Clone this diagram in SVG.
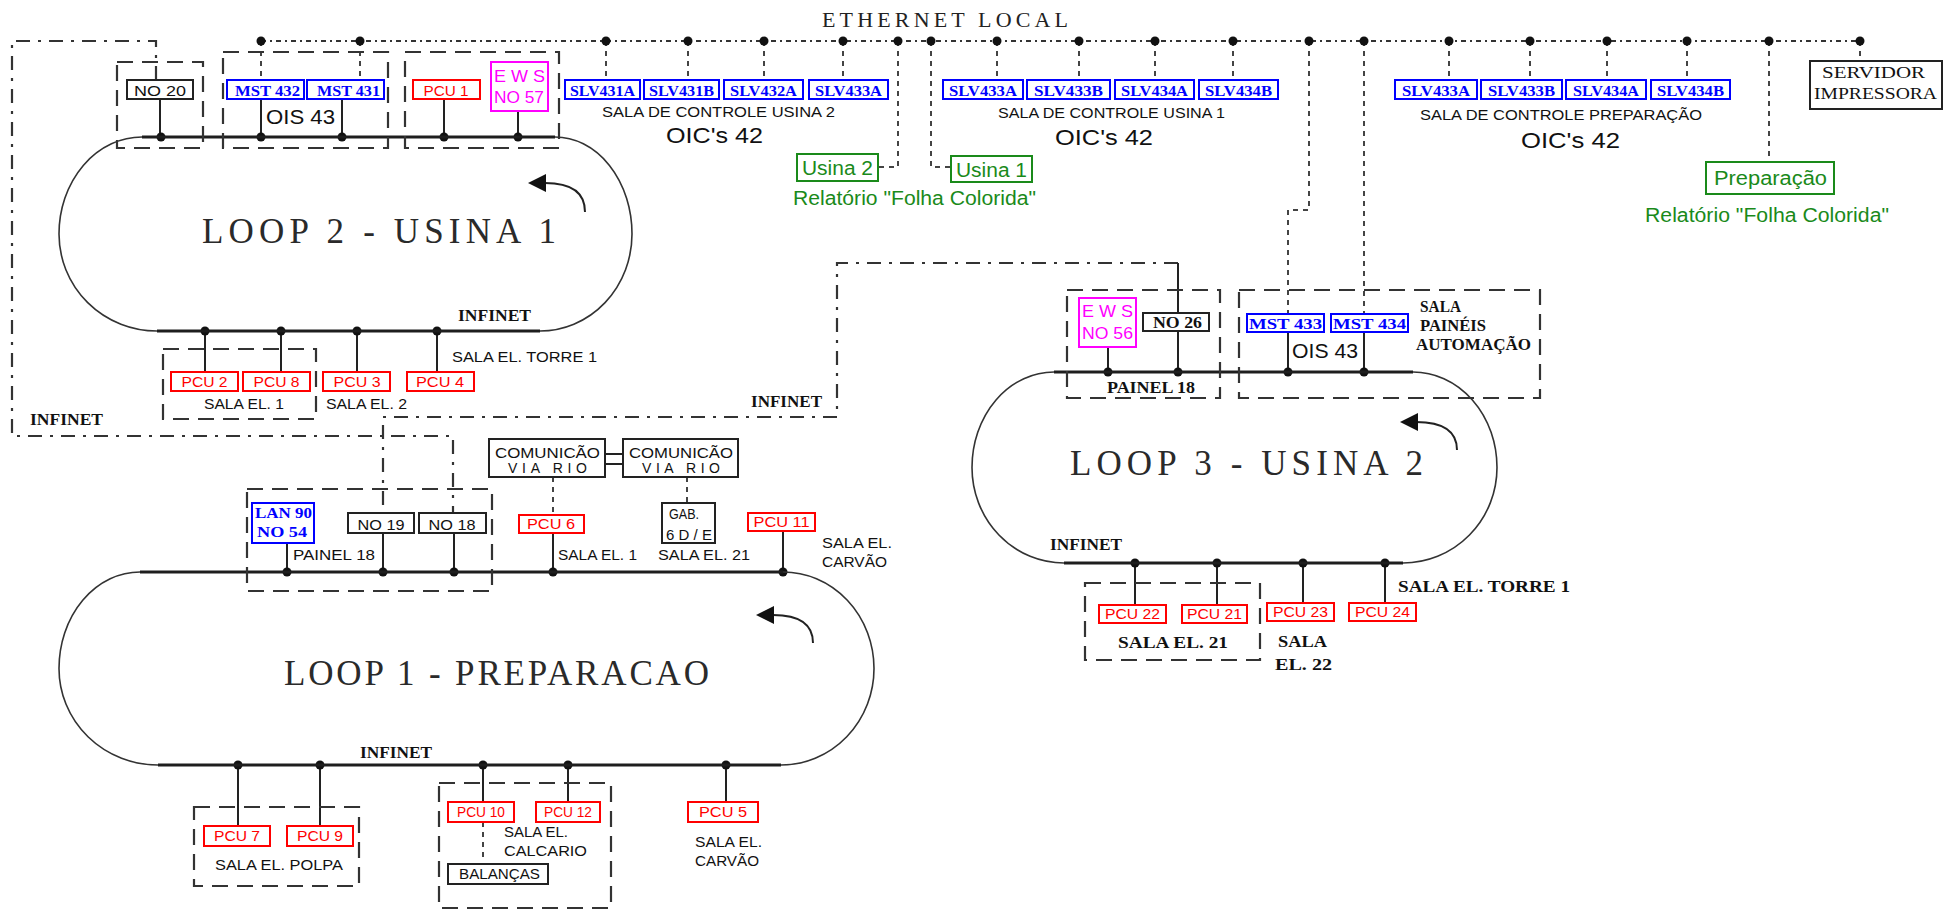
<svg xmlns="http://www.w3.org/2000/svg" width="1950" height="910" viewBox="0 0 1950 910">
<style>
.bus{stroke:#1e1e1e;stroke-width:3;fill:none}
.arc{stroke:#333;stroke-width:1.6;fill:none}
.drop{stroke:#222;stroke-width:2;fill:none}
.eth{stroke:#333;stroke-width:2.2;stroke-dasharray:5 4 2 4;fill:none}
.tap{stroke:#444;stroke-width:2;stroke-dasharray:5 5;fill:none}
.link{stroke:#333;stroke-width:2.2;stroke-dasharray:14 8 3 8;fill:none}
.grp{stroke:#333;stroke-width:2.2;stroke-dasharray:16 9;fill:none}
.dot{fill:#111}
.bx{fill:#fff;stroke-width:2}
.k{stroke:#222}.r{stroke:#f00}.b{stroke:#00f}.m{stroke:#f0f}.g{stroke:#1a8a1a}
text{font-family:"Liberation Sans",Arial,sans-serif;fill:#111;font-size:14px}
.s15{font-size:15px}
.s20{font-size:20px}
.ser{font-family:"Liberation Serif","Times New Roman",serif;font-size:16px;font-weight:bold}
.pl{font-family:"Liberation Serif","Times New Roman",serif;font-size:16px}
.big{font-family:"Liberation Serif","Times New Roman",serif;font-size:35px;fill:#2a2a2a}
.eh{font-family:"Liberation Serif","Times New Roman",serif;font-size:22px;fill:#222}
.pcu{fill:#f00;font-size:14px;text-anchor:middle}
.mst{fill:#00f;font-family:"Liberation Serif","Times New Roman",serif;font-weight:bold;font-size:15px}
.mag{fill:#f0f;font-size:17px}
.grn{fill:#1a8a1a;font-size:20px}
.oic{font-size:22px}
.mid{text-anchor:middle}
.arw{stroke:#222;stroke-width:2;fill:none}
</style>

<!-- connectors -->
<g id="connectors">
  <!-- ethernet backbone -->
  <path class="eth" d="M261,41 H1860"/>
  <g id="eth-taps">
    <path class="tap" d="M261,41V80M360,41V80M606,41V80M688,41V80M764,41V80M843,41V80M997,41V80M1079,41V80M1155,41V80M1233,41V80M1449,41V80M1530,41V80M1607,41V80M1687,41V80M1860,41V61M1769,41V162"/>
    <path class="tap" d="M898,41V167H878M931,41V167H951M1309,41V210H1288V314M1364,41V314"/>
  </g>
  <g id="eth-dots" class="dot">
    <circle cx="261" cy="41" r="4.5"/><circle cx="360" cy="41" r="4.5"/><circle cx="606" cy="41" r="4.5"/><circle cx="688" cy="41" r="4.5"/>
    <circle cx="764" cy="41" r="4.5"/><circle cx="843" cy="41" r="4.5"/><circle cx="898" cy="41" r="4.5"/><circle cx="931" cy="41" r="4.5"/>
    <circle cx="997" cy="41" r="4.5"/><circle cx="1079" cy="41" r="4.5"/><circle cx="1155" cy="41" r="4.5"/><circle cx="1233" cy="41" r="4.5"/>
    <circle cx="1309" cy="41" r="4.5"/><circle cx="1364" cy="41" r="4.5"/><circle cx="1449" cy="41" r="4.5"/><circle cx="1530" cy="41" r="4.5"/>
    <circle cx="1607" cy="41" r="4.5"/><circle cx="1687" cy="41" r="4.5"/><circle cx="1769" cy="41" r="4.5"/><circle cx="1860" cy="41" r="4.5"/>
  </g>
  <!-- infinet links between loops -->
  <path class="link" d="M156,80 V41 H12 V436 H453 V513"/>
  <path class="link" d="M1178,263 H837 V417 H383 V513"/>
  <!-- drops to loop 2 -->
  <path class="drop" d="M160,99V137M261,99V137M342,99V137M444,99V137M518,111V137"/>
  <path class="drop" d="M205,331V372M281,331V372M357,331V372M437,331V372"/>
  <!-- drops to loop 1 -->
  <path class="drop" d="M287,543V572M383,533V572M454,533V572M553,533V572M783,531V572"/>
  <path class="tap" d="M553,477V515M687,477V503M483,822V857"/>
  <path class="drop" d="M605,454H623M605,464H623"/>
  <path class="drop" d="M238,765V826M320,765V826M483,765V802M568,765V802M726,765V802"/>
  <!-- drops to loop 3 -->
  <path class="drop" d="M1108,347V372M1178,263V372M1288,332V372M1364,332V372"/>
  <path class="drop" d="M1135,563V605M1217,563V605M1303,563V603M1385,563V603"/>
  <g id="loop-dots" class="dot">
    <circle cx="161" cy="137" r="4.5"/><circle cx="261" cy="137" r="4.5"/><circle cx="342" cy="137" r="4.5"/><circle cx="444" cy="137" r="4.5"/><circle cx="518" cy="137" r="4.5"/>
    <circle cx="205" cy="331" r="4.5"/><circle cx="281" cy="331" r="4.5"/><circle cx="357" cy="331" r="4.5"/><circle cx="437" cy="331" r="4.5"/>
    <circle cx="287" cy="572" r="4.5"/><circle cx="383" cy="572" r="4.5"/><circle cx="454" cy="572" r="4.5"/><circle cx="553" cy="572" r="4.5"/><circle cx="783" cy="572" r="4.5"/>
    <circle cx="238" cy="765" r="4.5"/><circle cx="320" cy="765" r="4.5"/><circle cx="483" cy="765" r="4.5"/><circle cx="568" cy="765" r="4.5"/><circle cx="726" cy="765" r="4.5"/>
    <circle cx="1108" cy="372" r="4.5"/><circle cx="1178" cy="372" r="4.5"/><circle cx="1288" cy="372" r="4.5"/><circle cx="1364" cy="372" r="4.5"/>
    <circle cx="1135" cy="563" r="4.5"/><circle cx="1217" cy="563" r="4.5"/><circle cx="1303" cy="563" r="4.5"/><circle cx="1385" cy="563" r="4.5"/>
  </g>
</g>

<!-- ring buses -->
<g id="loop2">
  <path class="bus" d="M142,137H555M157,331H540"/>
  <path class="arc" d="M555,137A77,97 0 0 1 632,234A92,97 0 0 1 540,331M157,331A98,97 0 0 1 59,234A83,97 0 0 1 142,137"/>
  <text class="big" x="202" y="243" textLength="354" lengthAdjust="spacing">LOOP 2 - USINA 1</text>
  <path class="arw" d="M545,183Q585,183 585,212"/><polygon class="dot" points="528,183 546,174 546,192"/>
  <text class="ser" x="458" y="321" textLength="73" lengthAdjust="spacingAndGlyphs">INFINET</text>
</g>
<g id="loop1">
  <path class="bus" d="M140,572H783M158,765H781"/>
  <path class="arc" d="M783,572A91,96.5 0 0 1 874,668.5A93,96.5 0 0 1 781,765M158,765A99,96.5 0 0 1 59,668.5A81,96.5 0 0 1 140,572"/>
  <text class="big" x="284" y="685" textLength="425" lengthAdjust="spacing">LOOP 1 - PREPARACAO</text>
  <path class="arw" d="M773,615Q813,615 813,643"/><polygon class="dot" points="756,615 774,606 774,624"/>
  <text class="ser" x="360" y="758" textLength="72" lengthAdjust="spacingAndGlyphs">INFINET</text>
</g>
<g id="loop3">
  <path class="bus" d="M1054,372H1413M1064,563H1403"/>
  <path class="arc" d="M1413,372A84,95.5 0 0 1 1497,467.5A94,95.5 0 0 1 1403,563M1064,563A92,95.5 0 0 1 972,467.5A82,95.5 0 0 1 1054,372"/>
  <text class="big" x="1070" y="475" textLength="353" lengthAdjust="spacing">LOOP 3 - USINA 2</text>
  <path class="arw" d="M1416,422Q1457,422 1457,450"/><polygon class="dot" points="1400,422 1418,413 1418,431"/>
  <text class="ser" x="1050" y="550" textLength="72" lengthAdjust="spacingAndGlyphs">INFINET</text>
</g>

<g id="infinet-labels">
  <text class="ser" x="30" y="425" textLength="73" lengthAdjust="spacingAndGlyphs">INFINET</text>
  <text class="ser" x="751" y="407" textLength="71" lengthAdjust="spacingAndGlyphs">INFINET</text>
</g>

<text class="eh" x="822" y="27" textLength="246" lengthAdjust="spacing">ETHERNET  LOCAL</text>

<!-- loop 2 stations -->
<g id="grp-no20">
  <rect class="grp" x="117" y="62" width="86" height="86"/>
  <rect class="bx k" x="127" y="80" width="66" height="19"/>
  <text class="s15" x="134" y="96" textLength="52" lengthAdjust="spacingAndGlyphs">NO 20</text>
</g>
<g id="grp-ois43-u1">
  <rect class="grp" x="223" y="52" width="165" height="96"/>
  <rect class="bx b" x="227" y="80" width="77" height="19"/>
  <text class="mst" x="235" y="96" textLength="65" lengthAdjust="spacingAndGlyphs">MST 432</text>
  <rect class="bx b" x="307" y="80" width="77" height="19"/>
  <text class="mst" x="317" y="96" textLength="63" lengthAdjust="spacingAndGlyphs">MST 431</text>
  <text class="s20" x="266" y="124" textLength="69" lengthAdjust="spacingAndGlyphs">OIS 43</text>
</g>
<g id="grp-pcu1">
  <rect class="grp" x="405" y="52" width="154" height="96"/>
  <rect class="bx r" x="413" y="80" width="67" height="19"/>
  <text class="pcu" x="446" y="96" textLength="45" lengthAdjust="spacingAndGlyphs">PCU 1</text>
  <rect class="bx m" x="491" y="62" width="57" height="49"/>
  <text class="mag" x="494" y="82" textLength="51" lengthAdjust="spacingAndGlyphs">E W S</text>
  <text class="mag" x="494" y="103" textLength="50" lengthAdjust="spacingAndGlyphs">NO 57</text>
</g>
<g id="grp-sala-el1-u1">
  <rect class="grp" x="163" y="349" width="153" height="70"/>
  <rect class="bx r" x="171" y="372" width="67" height="19"/>
  <text class="pcu" x="204.5" y="387" textLength="46" lengthAdjust="spacingAndGlyphs">PCU 2</text>
  <rect class="bx r" x="243" y="372" width="67" height="19"/>
  <text class="pcu" x="276.5" y="387" textLength="46" lengthAdjust="spacingAndGlyphs">PCU 8</text>
  <text class="s15" x="204" y="409" textLength="80" lengthAdjust="spacingAndGlyphs">SALA EL. 1</text>
</g>
<g id="pcu3">
  <rect class="bx r" x="323" y="372" width="67" height="19"/>
  <text class="pcu" x="357" y="387" textLength="47" lengthAdjust="spacingAndGlyphs">PCU 3</text>
  <text class="s15" x="326" y="409" textLength="81" lengthAdjust="spacingAndGlyphs">SALA EL. 2</text>
</g>
<g id="pcu4">
  <rect class="bx r" x="407" y="372" width="67" height="19"/>
  <text class="pcu" x="440" y="387" textLength="48" lengthAdjust="spacingAndGlyphs">PCU 4</text>
  <text x="452" y="362" textLength="145" lengthAdjust="spacingAndGlyphs">SALA EL. TORRE 1</text>
</g>

<!-- control rooms on ethernet -->
<g id="oic-usina2">
  <rect class="bx b" x="565" y="80" width="75" height="19"/><text class="mst" x="570" y="96" textLength="65" lengthAdjust="spacingAndGlyphs">SLV431A</text>
  <rect class="bx b" x="644" y="80" width="75" height="19"/><text class="mst" x="649" y="96" textLength="65" lengthAdjust="spacingAndGlyphs">SLV431B</text>
  <rect class="bx b" x="724" y="80" width="79" height="19"/><text class="mst" x="730" y="96" textLength="67" lengthAdjust="spacingAndGlyphs">SLV432A</text>
  <rect class="bx b" x="809" y="80" width="79" height="19"/><text class="mst" x="815" y="96" textLength="67" lengthAdjust="spacingAndGlyphs">SLV433A</text>
  <text class="s15" x="602" y="117" textLength="233" lengthAdjust="spacingAndGlyphs">SALA DE CONTROLE USINA 2</text>
  <text class="oic" x="666" y="143" textLength="97" lengthAdjust="spacingAndGlyphs">OIC's  42</text>
</g>
<g id="oic-usina1">
  <rect class="bx b" x="943" y="80" width="80" height="19"/><text class="mst" x="949" y="96" textLength="68" lengthAdjust="spacingAndGlyphs">SLV433A</text>
  <rect class="bx b" x="1027" y="80" width="83" height="19"/><text class="mst" x="1034" y="96" textLength="69" lengthAdjust="spacingAndGlyphs">SLV433B</text>
  <rect class="bx b" x="1115" y="80" width="79" height="19"/><text class="mst" x="1121" y="96" textLength="67" lengthAdjust="spacingAndGlyphs">SLV434A</text>
  <rect class="bx b" x="1199" y="80" width="79" height="19"/><text class="mst" x="1205" y="96" textLength="67" lengthAdjust="spacingAndGlyphs">SLV434B</text>
  <text class="s15" x="998" y="118" textLength="227" lengthAdjust="spacingAndGlyphs">SALA DE CONTROLE USINA 1</text>
  <text class="oic" x="1055" y="145" textLength="98" lengthAdjust="spacingAndGlyphs">OIC's  42</text>
</g>
<g id="oic-preparacao">
  <rect class="bx b" x="1395" y="80" width="82" height="19"/><text class="mst" x="1402" y="96" textLength="68" lengthAdjust="spacingAndGlyphs">SLV433A</text>
  <rect class="bx b" x="1481" y="80" width="81" height="19"/><text class="mst" x="1488" y="96" textLength="67" lengthAdjust="spacingAndGlyphs">SLV433B</text>
  <rect class="bx b" x="1566" y="80" width="80" height="19"/><text class="mst" x="1573" y="96" textLength="66" lengthAdjust="spacingAndGlyphs">SLV434A</text>
  <rect class="bx b" x="1651" y="80" width="79" height="19"/><text class="mst" x="1657" y="96" textLength="67" lengthAdjust="spacingAndGlyphs">SLV434B</text>
  <text class="s15" x="1420" y="120" textLength="282" lengthAdjust="spacingAndGlyphs">SALA DE CONTROLE PREPARAÇÃO</text>
  <text class="oic" x="1521" y="148" textLength="99" lengthAdjust="spacingAndGlyphs">OIC's  42</text>
</g>
<g id="rel-usina">
  <rect class="bx g" x="797" y="154" width="81" height="27"/>
  <text class="grn" x="802" y="175" textLength="71" lengthAdjust="spacingAndGlyphs">Usina 2</text>
  <rect class="bx g" x="951" y="156" width="81" height="26"/>
  <text class="grn" x="956" y="177" textLength="71" lengthAdjust="spacingAndGlyphs">Usina 1</text>
  <text class="grn" x="793" y="205" textLength="243" lengthAdjust="spacingAndGlyphs">Relatório "Folha Colorida"</text>
</g>
<g id="rel-preparacao">
  <rect class="bx g" x="1706" y="162" width="128" height="32"/>
  <text class="grn" x="1714" y="185" textLength="113" lengthAdjust="spacingAndGlyphs">Preparação</text>
  <text class="grn" x="1645" y="222" textLength="244" lengthAdjust="spacingAndGlyphs">Relatório "Folha Colorida"</text>
</g>
<g id="servidor">
  <rect class="bx k" x="1810" y="61" width="132" height="48" stroke-width="3"/>
  <text class="pl" x="1822" y="78" textLength="103" lengthAdjust="spacingAndGlyphs">SERVIDOR</text>
  <text class="pl" x="1814" y="99" textLength="123" lengthAdjust="spacingAndGlyphs">IMPRESSORA</text>
</g>

<!-- loop 1 stations -->
<g id="grp-painel18-l1">
  <rect class="grp" x="247" y="489" width="245" height="102"/>
  <rect class="bx b" x="252" y="503" width="62" height="40"/>
  <text class="mst" x="255" y="518" textLength="57" lengthAdjust="spacingAndGlyphs">LAN 90</text>
  <text class="mst" x="257" y="537" textLength="50" lengthAdjust="spacingAndGlyphs">NO 54</text>
  <rect class="bx k" x="348" y="513" width="66" height="20"/>
  <text class="s15 mid" x="381" y="530" textLength="47" lengthAdjust="spacingAndGlyphs">NO 19</text>
  <rect class="bx k" x="419" y="513" width="67" height="20"/>
  <text class="s15 mid" x="452" y="530" textLength="47" lengthAdjust="spacingAndGlyphs">NO 18</text>
  <text class="s15" x="293" y="560" textLength="82" lengthAdjust="spacingAndGlyphs">PAINEL 18</text>
</g>
<g id="comunicacao">
  <rect class="bx k" x="489" y="439" width="116" height="38"/>
  <text x="495" y="458" textLength="105" lengthAdjust="spacingAndGlyphs">COMUNICÃO</text>
  <text x="508" y="473" textLength="79" lengthAdjust="spacing">VIA RIO</text>
  <rect class="bx k" x="623" y="439" width="115" height="38"/>
  <text x="629" y="458" textLength="104" lengthAdjust="spacingAndGlyphs">COMUNICÃO</text>
  <text x="642" y="473" textLength="78" lengthAdjust="spacing">VIA RIO</text>
</g>
<g id="pcu6">
  <rect class="bx r" x="519" y="515" width="65" height="18"/>
  <text class="pcu" x="551" y="529" textLength="48" lengthAdjust="spacingAndGlyphs">PCU 6</text>
  <text class="s15" x="558" y="560" textLength="79" lengthAdjust="spacingAndGlyphs">SALA EL. 1</text>
</g>
<g id="gab">
  <rect class="bx k" x="662" y="503" width="53" height="40"/>
  <text class="s15" x="669" y="519" textLength="30" lengthAdjust="spacingAndGlyphs">GAB.</text>
  <text class="s15" x="666" y="540" textLength="46" lengthAdjust="spacing">6D/E</text>
  <text class="s15" x="658" y="560" textLength="92" lengthAdjust="spacingAndGlyphs">SALA EL. 21</text>
</g>
<g id="pcu11">
  <rect class="bx r" x="748" y="513" width="67" height="18"/>
  <text class="pcu" x="781.5" y="527" textLength="56" lengthAdjust="spacingAndGlyphs">PCU 11</text>
  <text class="s15" x="822" y="548" textLength="70" lengthAdjust="spacingAndGlyphs">SALA EL.</text>
  <text class="s15" x="822" y="567" textLength="65" lengthAdjust="spacingAndGlyphs">CARVÃO</text>
</g>
<g id="grp-polpa">
  <rect class="grp" x="194" y="807" width="165" height="79"/>
  <rect class="bx r" x="204" y="826" width="66" height="20"/>
  <text class="pcu" x="237" y="841" textLength="46" lengthAdjust="spacingAndGlyphs">PCU 7</text>
  <rect class="bx r" x="287" y="826" width="66" height="20"/>
  <text class="pcu" x="320" y="841" textLength="46" lengthAdjust="spacingAndGlyphs">PCU 9</text>
  <text class="s15" x="215" y="870" textLength="128" lengthAdjust="spacingAndGlyphs">SALA EL. POLPA</text>
</g>
<g id="grp-calcario">
  <rect class="grp" x="439" y="783" width="172" height="125"/>
  <rect class="bx r" x="448" y="802" width="66" height="20"/>
  <text class="pcu" x="481" y="817" textLength="48" lengthAdjust="spacingAndGlyphs">PCU 10</text>
  <rect class="bx r" x="536" y="802" width="64" height="20"/>
  <text class="pcu" x="568" y="817" textLength="48" lengthAdjust="spacingAndGlyphs">PCU 12</text>
  <text class="s15" x="504" y="837" textLength="64" lengthAdjust="spacingAndGlyphs">SALA EL.</text>
  <text class="s15" x="504" y="856" textLength="83" lengthAdjust="spacingAndGlyphs">CALCARIO</text>
  <rect class="bx k" x="448" y="864" width="100" height="20"/>
  <text x="459" y="879" textLength="81" lengthAdjust="spacingAndGlyphs">BALANÇAS</text>
</g>
<g id="pcu5">
  <rect class="bx r" x="688" y="802" width="70" height="20"/>
  <text class="pcu" x="723" y="817" textLength="48" lengthAdjust="spacingAndGlyphs">PCU 5</text>
  <text class="s15" x="695" y="847" textLength="67" lengthAdjust="spacingAndGlyphs">SALA EL.</text>
  <text class="s15" x="695" y="866" textLength="64" lengthAdjust="spacingAndGlyphs">CARVÃO</text>
</g>

<!-- loop 3 stations -->
<g id="grp-painel18-l3">
  <rect class="grp" x="1067" y="290" width="153" height="108"/>
  <rect class="bx m" x="1079" y="298" width="57" height="49"/>
  <text class="mag" x="1082" y="317" textLength="51" lengthAdjust="spacingAndGlyphs">E W S</text>
  <text class="mag" x="1082" y="339" textLength="51" lengthAdjust="spacingAndGlyphs">NO 56</text>
  <rect class="bx k" x="1143" y="313" width="66" height="18"/>
  <text class="ser" x="1153" y="328" textLength="49" lengthAdjust="spacingAndGlyphs">NO 26</text>
  <text class="ser" x="1107" y="393" textLength="88" lengthAdjust="spacingAndGlyphs">PAINEL 18</text>
</g>
<g id="grp-ois43-u2">
  <rect class="grp" x="1239" y="290" width="301" height="108"/>
  <rect class="bx b" x="1247" y="314" width="77" height="18"/>
  <text class="mst" x="1249" y="329" textLength="73" lengthAdjust="spacingAndGlyphs">MST 433</text>
  <rect class="bx b" x="1331" y="314" width="77" height="18"/>
  <text class="mst" x="1333" y="329" textLength="73" lengthAdjust="spacingAndGlyphs">MST 434</text>
  <text class="s20" x="1292" y="358" textLength="66" lengthAdjust="spacingAndGlyphs">OIS 43</text>
  <text class="ser" x="1420" y="312" textLength="41" lengthAdjust="spacingAndGlyphs">SALA</text>
  <text class="ser" x="1420" y="331" textLength="66" lengthAdjust="spacingAndGlyphs">PAINÉIS</text>
  <text class="ser" x="1416" y="350" textLength="115" lengthAdjust="spacingAndGlyphs">AUTOMAÇÃO</text>
</g>
<g id="grp-sala-el21-l3">
  <rect class="grp" x="1085" y="583" width="175" height="77"/>
  <rect class="bx r" x="1099" y="605" width="67" height="18"/>
  <text class="pcu" x="1132.5" y="619" textLength="55" lengthAdjust="spacingAndGlyphs">PCU 22</text>
  <rect class="bx r" x="1182" y="605" width="65" height="18"/>
  <text class="pcu" x="1214.5" y="619" textLength="55" lengthAdjust="spacingAndGlyphs">PCU 21</text>
  <text class="ser" x="1118" y="648" textLength="110" lengthAdjust="spacingAndGlyphs">SALA EL. 21</text>
</g>
<g id="pcu23">
  <rect class="bx r" x="1267" y="603" width="67" height="18"/>
  <text class="pcu" x="1300.5" y="617" textLength="55" lengthAdjust="spacingAndGlyphs">PCU 23</text>
  <text class="ser" x="1278" y="647" textLength="49" lengthAdjust="spacingAndGlyphs">SALA</text>
  <text class="ser" x="1275" y="670" textLength="57" lengthAdjust="spacingAndGlyphs">EL. 22</text>
</g>
<g id="pcu24">
  <rect class="bx r" x="1349" y="603" width="67" height="18"/>
  <text class="pcu" x="1382.5" y="617" textLength="55" lengthAdjust="spacingAndGlyphs">PCU 24</text>
  <text class="ser" x="1398" y="592" textLength="172" lengthAdjust="spacingAndGlyphs">SALA EL. TORRE 1</text>
</g>
</svg>
